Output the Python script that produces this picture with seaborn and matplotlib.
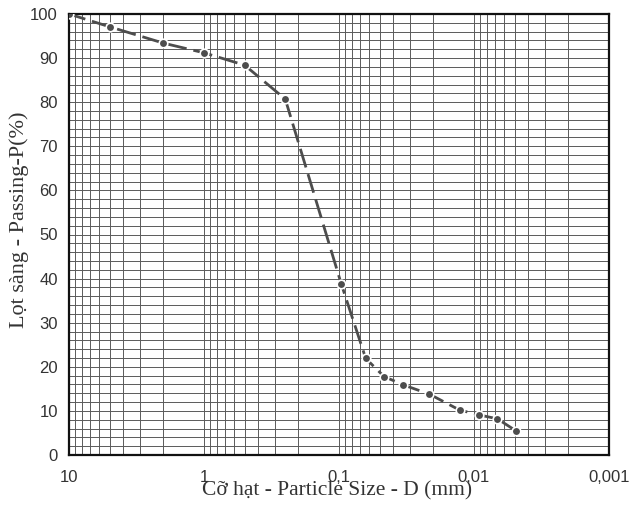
import matplotlib
matplotlib.use("Agg")
import matplotlib.pyplot as plt
import seaborn as sns
import pandas as pd
import numpy as np
from matplotlib.ticker import LogLocator, FixedLocator, MultipleLocator, NullFormatter

particle_size = [10, 5, 2, 1, 0.5, 0.25, 0.096, 0.0634, 0.0464, 0.0334, 0.0214, 0.0128, 0.0092, 0.0067, 0.0049]
passing = [100, 97.1, 93.4, 91.2, 88.4, 80.7, 38.7, 21.9, 17.8, 15.9, 13.8, 10.2, 9.1, 8.2, 5.5]
x_ticks = [10, 1, 0.1, 0.01, 0.001]
x_tick_labels = ["10", "1", "0,1", "0,01", "0,001"]
y_ticks = list(range(0, 101, 10))

df = pd.DataFrame({"D": particle_size, "P": passing})

sns.set_theme(style="white")
plt.rcParams["font.family"] = ["Liberation Sans", "DejaVu Sans"]

fig = plt.figure(figsize=(6.3, 5.12), dpi=100)
ax = fig.add_axes([69/630, 1-455/512, (609-69)/630, (455-14)/512])

ax.set_xscale("log")
ax.set_xlim(10, 0.001)
ax.set_ylim(0, 100)

# grid
ax.xaxis.set_major_locator(FixedLocator(x_ticks))
ax.xaxis.set_minor_locator(LogLocator(base=10, subs=np.arange(2, 10)))
ax.xaxis.set_minor_formatter(NullFormatter())
ax.yaxis.set_major_locator(FixedLocator(y_ticks))
ax.yaxis.set_minor_locator(MultipleLocator(2))
ax.grid(True, which="both", color="#5a5a5a", linewidth=0.7)
ax.set_axisbelow(True)

sns.lineplot(data=df, x="D", y="P", ax=ax, color="#4d4d4d", linewidth=2.0,
             dashes=False, zorder=3)
ax.lines[-1].set_dashes([7, 2.5])
sns.scatterplot(data=df, x="D", y="P", ax=ax, color="#4d4d4d", s=38,
                edgecolor="white", linewidth=1.2, zorder=4)

ax.set_xticks(x_ticks)
ax.set_xticklabels(x_tick_labels)
ax.set_yticks(y_ticks)
ax.tick_params(axis="both", which="both", length=0, labelsize=12, labelcolor="#333333")
ax.tick_params(axis="x", pad=11)
ax.tick_params(axis="y", pad=8)

for s in ax.spines.values():
    s.set_visible(True)
    s.set_color("#111111")
    s.set_linewidth(1.6)

ax.set_xlabel("Cỡ hạt - Particle Size - D (mm)", fontsize=15.5,
              family=["Liberation Serif", "DejaVu Serif"], color="#333333")
ax.xaxis.set_label_coords((337-69)/540, -(481-455)/441)
ax.set_ylabel("Lọt sàng - Passing-P(%)", fontsize=16,
              family=["Liberation Serif", "DejaVu Serif"], color="#333333")
ax.yaxis.set_label_coords(-(69-29)/540, (455-220)/441)

fig.savefig("out.png", dpi=100, facecolor="white")
